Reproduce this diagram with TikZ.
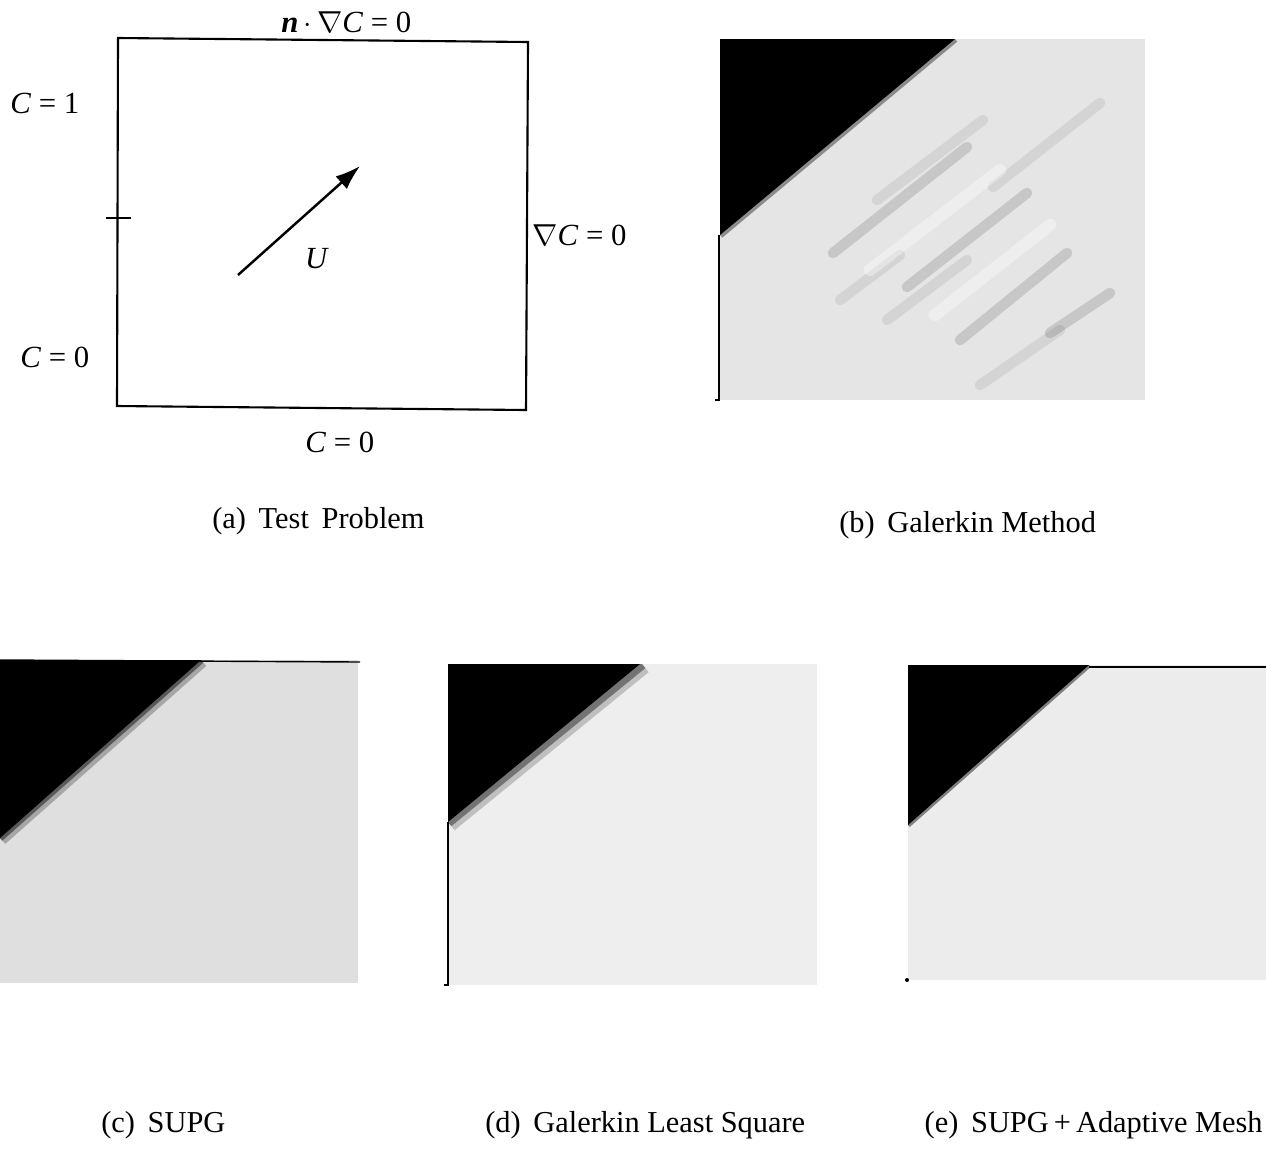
\documentclass[tikz,border=0pt]{standalone}
\usepackage{fontspec}
\setmainfont{Liberation Serif}
\usetikzlibrary{arrows.meta}

\begin{document}
\begin{tikzpicture}[x=0.02cm,y=-0.02cm,font=\fontsize{17.5}{20}\selectfont,
  lbl/.style={inner sep=0pt,anchor=west},
  captxt/.style={inner sep=0pt,anchor=west,font=\fontsize{17.3}{20}\selectfont},
  frame/.style={line width=1.2pt},
  ar/.style={-{Latex[length=5mm,width=3.4mm]},line width=1.4pt},
  blur/.style={line width=#1},
  streak/.style={line width=6pt,line cap=round,black,opacity=0.13},
  gapw/.style={line width=7pt,line cap=round,white,opacity=0.35}]
\useasboundingbox (0,0) rectangle (1266,1150);
% (a) test problem
\draw[frame] (118,38) -- (528,42) -- (526,410) -- (117,406) -- cycle;
\draw[frame] (106,218) -- (131,218);
\coordinate (u0) at (238,275);
\coordinate (u1) at (360,166);
\draw[ar] (u0) -- (u1);
\node (lu) at (317,259) {\textit{U}};
\node[lbl] (ltop) at (281,22) {\textbf{\textit{n}}\,$\cdot$\,$\nabla$\textit{C} = 0};
\node[lbl] (lc1) at (10,103) {\textit{C} = 1};
\node[lbl] (lright) at (532,235) {$\nabla$\textit{C} = 0};
\node[lbl] (lc0) at (20,357) {\textit{C} = 0};
\node[lbl] (lbot) at (305,442) {\textit{C} = 0};
% (b) galerkin
\begin{scope}
\clip (720,39) rectangle (1145,400);
\fill[gray!20] (720,39) rectangle (1145,400);
\foreach \xa/\ya/\xb/\yb in {877/200/983/120, 993/187/1100/103, 887/320/967/260, 980/385/1060/330, 840/300/900/255}
  \draw[streak,opacity=0.07] (\xa,\ya) -- (\xb,\yb);
\foreach \xa/\ya/\xb/\yb in {870/270/1000/170, 935/315/1050/225}
  \draw[gapw] (\xa,\ya) -- (\xb,\yb);
\foreach \xa/\ya/\xb/\yb in {833/253/967/147, 907/287/1027/193, 960/340/1067/253, 1050/333/1110/293}
  \draw[streak] (\xa,\ya) -- (\xb,\yb);
\draw[blur=4pt,black!45] (955,39) -- (720,235);
\fill (720,39) -- (955,39) -- (720,235) -- cycle;
\end{scope}
\draw[line width=1.5pt] (719,235) -- (719,400) -- (715,400);
% (c) supg
\begin{scope}
\clip (0,660) rectangle (358,983);
\fill[gray!25] (0,660) rectangle (358,983);
\draw[blur=9pt,black!35] (201,660) -- (0,838);
\draw[blur=4pt,black!65] (201,660) -- (0,838);
\fill (0,660) -- (201,660) -- (0,838) -- cycle;
\end{scope}
\draw[line width=0.8pt] (0,660) -- (360,662);
% (d) galerkin least square
\begin{scope}
\clip (448,664) rectangle (817,985);
\fill[gray!13] (448,664) rectangle (817,985);
\draw[blur=12pt,black!25] (642,664) -- (448,822);
\draw[blur=6pt,black!55] (642,664) -- (448,822);
\fill (448,664) -- (640,664) -- (448,822) -- cycle;
\end{scope}
\draw[line width=1.5pt] (448,822) -- (448,985) -- (444,985);
% (e) supg + adaptive mesh
\begin{scope}
\clip (908,665) rectangle (1266,980);
\fill[gray!15] (908,665) rectangle (1266,980);
\draw[blur=3pt,black!50] (1089,665) -- (908,825);
\fill (908,665) -- (1089,665) -- (908,825) -- cycle;
\end{scope}
\draw[line width=1pt] (1089,667) -- (1266,667);
\fill (907,980) circle (2);
% captions
\node[captxt] (capa) at (212,521) {(a)\ \,Test\ \,Problem};
\node[captxt] (capb) at (839,525) {(b)\ \,Galerkin Method};
\node[captxt] (capc) at (101,1125) {(c)\ \,SUPG};
\node[captxt] (capd) at (485,1125) {(d)\ \,Galerkin Least Square};
\node[captxt,anchor=east] (cape) at (1263,1125) {(e)\ \,SUPG\,+\,Adaptive Mesh};
\end{tikzpicture}
\end{document}
